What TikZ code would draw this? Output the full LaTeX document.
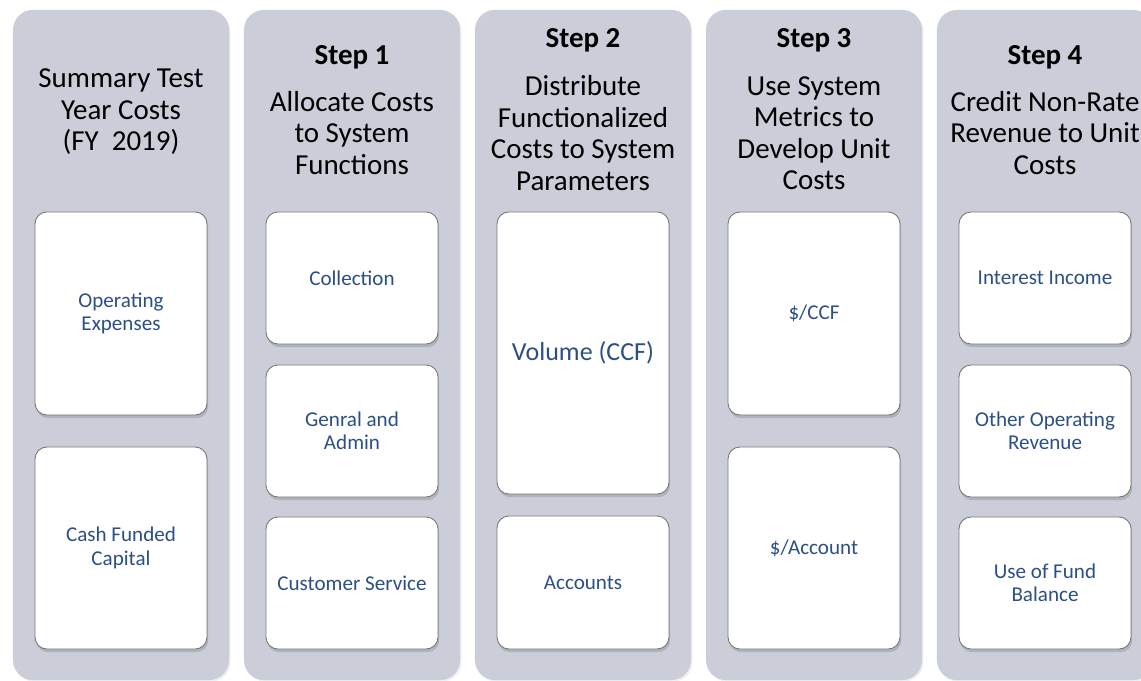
\documentclass[tikz,border=0pt]{standalone}
\usepackage{fontspec}
\setmainfont{Carlito}
\usetikzlibrary{shadows}
\definecolor{lanegrey}{HTML}{CBCED8}
\definecolor{cardblue}{HTML}{2B4F86}
\tikzset{lane/.style = {fill=lanegrey, rounded corners=0.5cm,
                        minimum width=5.4cm, minimum height=16.75cm,
                        drop shadow={opacity=0.12, shadow xshift=0.04cm, shadow yshift=-0.04cm}},
         card/.style = {draw=black!55, line width=0.6pt, fill=white, rounded corners=0.3cm,
                        minimum width=4.3cm, minimum height=#1, align=center, text=cardblue,
                        font=\fontsize{15}{16.6}\selectfont,
                        drop shadow={opacity=0.35, shadow xshift=0.03cm, shadow yshift=-0.08cm}},
         steptitle/.style = {font=\bfseries\fontsize{20.6}{22.4}\selectfont},
         heading/.style = {align=center, font=\fontsize{20.6}{22.4}\selectfont}}

\begin{document}
\begin{tikzpicture}[x=0.025cm, y=-0.025cm]
      \useasboundingbox (0, 0) rectangle (1141, 681);
      \clip (0, 0) rectangle (1141, 681);
      \fill [white] (0, 0) rectangle (1141, 681);

      \node [lane] (lane0) at (121, 345) {};
      \node [lane] (lane1) at (352, 345) {};
      \node [lane] (lane2) at (583, 345) {};
      \node [lane] (lane3) at (814, 345) {};
      \node [lane] (lane4) at (1045, 345) {};

      \node [heading] (head0) at (121, 112) {Summary Test\\Year Costs\\(FY\ \ 2019)};
      \node [steptitle] (title1) at (352, 57) {Step 1};
      \node [heading] (head1) at (352, 133) {Allocate Costs\\to System\\Functions};
      \node [steptitle] (title2) at (583, 40) {Step 2};
      \node [heading] (head2) at (583, 133) {Distribute\\Functionalized\\Costs to System\\Parameters};
      \node [steptitle] (title3) at (814, 40) {Step 3};
      \node [heading] (head3) at (814, 133) {Use System\\Metrics to\\Develop Unit\\Costs};
      \node [steptitle] (title4) at (1045, 57) {Step 4};
      \node [heading] (head4) at (1045, 133) {Credit Non-Rate\\Revenue to Unit\\Costs};

      \node [card=5.075cm] (opex) at (121, 313.5) {Operating\\Expenses};
      \node [card=5.05cm] (capital) at (121, 548) {Cash Funded\\Capital};

      \node [card=3.3cm] (collection) at (352, 278) {Collection};
      \node [card=3.3cm] (admin) at (352, 431) {Genral and\\Admin};
      \node [card=3.3cm] (service) at (352, 583) {Customer Service};

      \node [card=7.05cm, font=\fontsize{18.5}{20}\selectfont] (volume) at (583, 353) {Volume (CCF)};
      \node [card=3.325cm] (accounts) at (583, 582.5) {Accounts};

      \node [card=5.075cm] (perccf) at (814, 313.5) {\$/CCF};
      \node [card=5.05cm] (peraccount) at (814, 548) {\$/Account};

      \node [card=3.3cm] (interest) at (1045, 278) {Interest Income};
      \node [card=3.3cm] (otherrev) at (1045, 431) {Other Operating\\Revenue};
      \node [card=3.3cm] (fundbal) at (1045, 583) {Use of Fund\\Balance};
    \end{tikzpicture}
\end{document}
